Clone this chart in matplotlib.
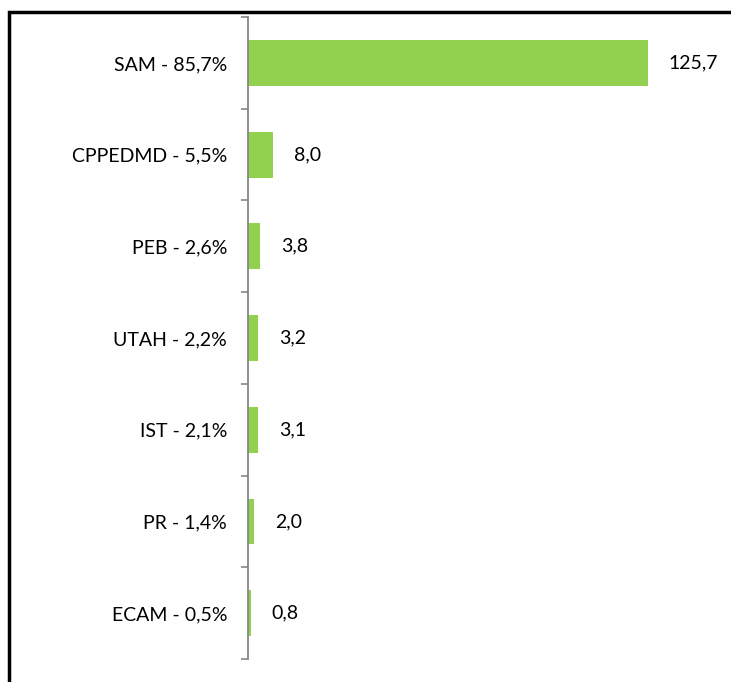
import matplotlib.pyplot as plt
from matplotlib.lines import Line2D

categories = ['SAM - 85,7%', 'CPPEDMD - 5,5%', 'PEB - 2,6%', 'UTAH - 2,2%',
              'IST - 2,1%', 'PR - 1,4%', 'ECAM - 0,5%']
values = [125.7, 8.0, 3.8, 3.2, 3.1, 2.0, 0.8]
value_labels = ['125,7', '8,0', '3,8', '3,2', '3,1', '2,0', '0,8']

plt.rcParams['font.family'] = ['Lato', 'DejaVu Sans']

fig = plt.figure(figsize=(7.31, 6.82), dpi=100)
ax = fig.add_axes([0.3393, 0.0337, 0.6443, 0.9413])

pos = list(range(len(categories)))
ax.barh(pos, values, height=0.5, color='#92D050')
for p, v, lab in zip(pos, values, value_labels):
    ax.annotate(lab, (v, p), xytext=(15, 0), textcoords='offset points',
                va='center', ha='left', fontsize=14, color='black')

ax.set_xlim(0, 148)
ax.set_ylim(6.5, -0.5)
ax.set_yticks(pos)
ax.set_yticklabels(categories, fontsize=14)
ax.set_yticks([p - 0.5 for p in pos] + [6.5], minor=True)
ax.tick_params(axis='y', which='major', length=0, pad=15)
ax.tick_params(axis='y', which='minor', length=5, width=1.2, color='#868686')
ax.set_xticks([])
for s in ['top', 'right', 'bottom']:
    ax.spines[s].set_visible(False)
ax.spines['left'].set_color('#868686')
ax.spines['left'].set_linewidth(1.3)

# outer frame (top and left edges)
fig.add_artist(Line2D([0.0125, 0.0125, 1.0], [0.0, 0.9825, 0.9825],
                      transform=fig.transFigure, color='black', linewidth=2.5,
                      solid_joinstyle='miter'))

fig.savefig('out.png', dpi=100)
